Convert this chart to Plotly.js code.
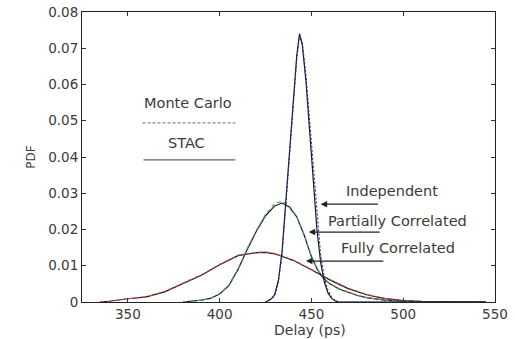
<!DOCTYPE html>
<html><head><meta charset="utf-8">
<script src="https://cdn.plot.ly/plotly-3.0.1.min.js"></script>
<style>body{margin:0;background:#fff}#c{width:515px;height:339px}</style>
</head><body><div id="c"></div>
<script>
// Delay (ps) and PDF values
const indepX   = [425, 428, 430, 432, 434, 436, 438, 440, 442, 443.5, 445, 447, 449, 451, 453, 455, 457, 459, 461, 463, 465, 545];
const indepSTAC= [0, 0.0008, 0.002, 0.006, 0.014, 0.027, 0.040, 0.055, 0.068, 0.074, 0.071, 0.061, 0.048, 0.033, 0.020, 0.011, 0.0055, 0.0025, 0.001, 0.0003, 0, 0];
const indepMC  = [0, 0.0007, 0.0018, 0.0055, 0.013, 0.026, 0.039, 0.054, 0.067, 0.0735, 0.0715, 0.0625, 0.050, 0.036, 0.023, 0.013, 0.0068, 0.0032, 0.0013, 0.0004, 0, 0];

const partX    = [380, 385, 390, 395, 400, 405, 410, 415, 420, 425, 430, 434, 438, 442, 446, 450, 453, 456, 460, 465, 470, 475, 480, 490, 500, 510, 545];
const partSTAC = [0, 0.0002, 0.0005, 0.001, 0.0022, 0.0045, 0.009, 0.0145, 0.0195, 0.0238, 0.0265, 0.0273, 0.0262, 0.0235, 0.0185, 0.0125, 0.0092, 0.0068, 0.005, 0.0036, 0.0026, 0.0018, 0.0012, 0.0005, 0.0002, 0, 0];
const partMC   = [0, 0.0002, 0.0005, 0.001, 0.0023, 0.0047, 0.0092, 0.0148, 0.0198, 0.0242, 0.0272, 0.0278, 0.0265, 0.0236, 0.0187, 0.0127, 0.0093, 0.0069, 0.0051, 0.0037, 0.0027, 0.0019, 0.0012, 0.0005, 0.0002, 0, 0];

const fullX    = [335, 340, 350, 360, 370, 380, 390, 400, 410, 420, 425, 430, 440, 450, 460, 470, 480, 490, 500, 510, 520, 545];
const fullSTAC = [0.0001, 0.0002, 0.0009, 0.0014, 0.0028, 0.0052, 0.0074, 0.0103, 0.0128, 0.0136, 0.0137, 0.0133, 0.0115, 0.0089, 0.0061, 0.0037, 0.0020, 0.00095, 0.0004, 0.00015, 0.00005, 0];
const fullMC   = [0.0001, 0.0002, 0.0009, 0.0014, 0.0029, 0.0053, 0.0075, 0.0104, 0.0129, 0.0137, 0.0138, 0.0134, 0.0116, 0.0090, 0.0062, 0.0038, 0.0021, 0.0010, 0.0004, 0.00015, 0.00005, 0];

const xTicks = [350, 400, 450, 500, 550];
const yTicks = [0, 0.01, 0.02, 0.03, 0.04, 0.05, 0.06, 0.07, 0.08];
const yTickText = ["0", "0.01", "0.02", "0.03", "0.04", "0.05", "0.06", "0.07", "0.08"];

const curveLabels = ["Independent", "Partially Correlated", "Fully Correlated"];
const labelX = [494, 497, 497];
const labelY = [0.0306, 0.0223, 0.0149];
const arrowY = [0.027, 0.0193, 0.0113];
const arrowHeadX = [455, 448.5, 447];
const arrowTailX = [487, 488, 490];

const solid = {color: '#1a1a1a', width: 1.2};
const traces = [
  {x: fullX, y: fullSTAC, mode: 'lines', line: solid},
  {x: fullX, y: fullMC, mode: 'lines', line: {color: '#d04444', width: 1.1, dash: '4px,3px'}},
  {x: partX, y: partSTAC, mode: 'lines', line: solid},
  {x: partX, y: partMC, mode: 'lines', line: {color: '#5c9c80', width: 1.1, dash: '4px,3px'}},
  {x: indepX, y: indepSTAC, mode: 'lines', line: solid},
  {x: indepX, y: indepMC, mode: 'lines', line: {color: '#2b2b9a', width: 1.1, dash: '2px,2px'}}
];

const font = {family: 'DejaVu Sans, Verdana, sans-serif', size: 13.5, color: '#3a3a3a'};
const tfont = {...font, size: 13.5};
const afont = {...font, size: 14.5};
const annotations = [];
const shapes = [];
for (let i = 0; i < curveLabels.length; i++) {
  annotations.push({x: labelX[i], y: labelY[i], xref: 'x', yref: 'y', text: curveLabels[i], showarrow: false, font: afont});
  annotations.push({x: arrowHeadX[i], y: arrowY[i], ax: arrowTailX[i], ay: arrowY[i], axref: 'x', ayref: 'y', xref: 'x', yref: 'y',
    text: '', showarrow: true, arrowhead: 2, arrowsize: 1, arrowwidth: 1.3, arrowcolor: '#222'});
}
annotations.push({x: 383, y: 0.0549, xref: 'x', yref: 'y', text: 'Monte Carlo', showarrow: false, font: afont});
annotations.push({x: 382, y: 0.0439, xref: 'x', yref: 'y', text: 'STAC', showarrow: false, font: afont});
annotations.push({x: 0.552, y: -0.097, xref: 'paper', yref: 'paper', text: 'Delay (ps)', showarrow: false, yanchor: 'middle', font: {...font, size: 14}});
shapes.push({type: 'line', xref: 'x', yref: 'y', x0: 358, x1: 408.5, y0: 0.0494, y1: 0.0494, line: {color: '#666', width: 1, dash: '3px,2px'}});
shapes.push({type: 'line', xref: 'x', yref: 'y', x0: 358.5, x1: 408.5, y0: 0.0392, y1: 0.0392, line: {color: '#666', width: 1.2}});

const layout = {
  width: 515, height: 339,
  margin: {l: 82, r: 20, t: 12, b: 37},
  showlegend: false,
  paper_bgcolor: '#fff', plot_bgcolor: '#fff',
  font: font,
  xaxis: {range: [325, 550], tickvals: xTicks, ticks: 'inside', ticklen: 4, tickcolor: '#333',
          showgrid: false, zeroline: false, showline: true, linecolor: '#222', linewidth: 1, mirror: 'ticks', tickfont: tfont},
  yaxis: {range: [0, 0.08], tickvals: yTicks, ticktext: yTickText, ticks: 'inside', ticklen: 4, tickcolor: '#333',
          showgrid: false, zeroline: false, showline: true, linecolor: '#222', linewidth: 1, mirror: 'ticks', tickfont: tfont,
          title: {text: 'PDF', font: {...font, size: 12}, standoff: 10}},
  annotations: annotations,
  shapes: shapes
};
Plotly.newPlot('c', traces, layout, {staticPlot: true, displayModeBar: false});
</script></body></html>
